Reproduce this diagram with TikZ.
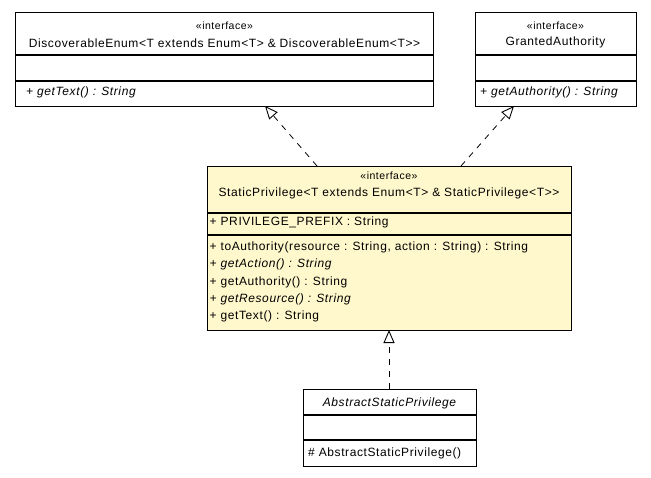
\documentclass[tikz,border=0pt]{standalone}
\usepackage{fontspec}
\setmainfont{Liberation Sans}[LetterSpace=5]
\usetikzlibrary{arrows.meta,calc}
\definecolor{focus}{HTML}{FFF8CC}
\begin{document}
\begin{tikzpicture}[x=1pt,y=-1pt,
  umlbox/.style={draw=black, line width=0.9pt, anchor=north west, inner sep=0pt, outer sep=0pt},
  sepline/.style={draw=black, line width=1.1pt},
  txt/.style={inner sep=0pt, font=\fontsize{12}{14}\selectfont},
  itxt/.style={txt, font=\fontsize{12}{14}\selectfont\itshape},
  stereo/.style={inner sep=0pt, font=\fontsize{10.5}{12}\selectfont},
  realize/.style={draw=black, line width=0.8pt, dash pattern=on 6pt off 6pt,
    -{Triangle[open,length=13pt,width=11pt,line width=0.9pt,fill=white]}}]
\useasboundingbox (0,0) rectangle (651,477);
\fill[white] (0,0) rectangle (651,477);

% DiscoverableEnum
\node[umlbox, minimum width=418pt, minimum height=94pt] (de) at (15,12) {};
\draw[sepline] (15,55) -- (433,55);
\draw[sepline] (15,81) -- (433,81);
\node[stereo] (de-st) at (224.5,26) {«interface»};
\node[txt] (de-nm) at (224.5,43) {DiscoverableEnum<T extends Enum<T> \& DiscoverableEnum<T>{}>};
\node[itxt, anchor=mid west] (de-m1) at (26,93) {+ getText() : String};

% GrantedAuthority
\node[umlbox, minimum width=161pt, minimum height=94pt] (ga) at (475,12) {};
\draw[sepline] (475,55) -- (636,55);
\draw[sepline] (475,81) -- (636,81);
\node[stereo] (ga-st) at (555.5,26) {«interface»};
\node[txt] (ga-nm) at (555.5,42) {GrantedAuthority};
\node[itxt, anchor=mid west] (ga-m1) at (480,93) {+ getAuthority() : String};

% StaticPrivilege
\node[umlbox, fill=focus, minimum width=364pt, minimum height=164pt] (sp) at (207,166) {};
\draw[sepline] (207,213) -- (571,213);
\draw[sepline] (207,235) -- (571,235);
\node[stereo] (sp-st) at (389,176) {«interface»};
\node[txt] (sp-nm) at (389,193) {StaticPrivilege<T extends Enum<T> \& StaticPrivilege<T>{}>};
\node[txt, anchor=mid west] (sp-f1) at (209.5,223) {+ PRIVILEGE\_PREFIX : String};
\node[txt, anchor=mid west] (sp-m1) at (209.5,248) {+ toAuthority(resource : String, action : String) : String};
\node[itxt, anchor=mid west] (sp-m2) at (209.5,265) {+ getAction() : String};
\node[txt, anchor=mid west] (sp-m3) at (209.5,283) {+ getAuthority() : String};
\node[itxt, anchor=mid west] (sp-m4) at (209.5,300) {+ getResource() : String};
\node[txt, anchor=mid west] (sp-m5) at (209.5,317) {+ getText() : String};

% AbstractStaticPrivilege
\node[umlbox, minimum width=173pt, minimum height=77pt] (asp) at (303,389) {};
\draw[sepline] (303,415) -- (476,415);
\draw[sepline] (303,440) -- (476,440);
\node[itxt] (asp-nm) at (389.5,403) {AbstractStaticPrivilege};
\node[txt, anchor=mid west] (asp-m1) at (308,454) {\# AbstractStaticPrivilege()};

% connectors
\coordinate (s1) at (317,166);
\coordinate (t1) at (265,106);
\coordinate (s2) at (461,166);
\coordinate (t2) at (514,106);
\coordinate (s3) at (389,389);
\coordinate (t3) at (389,330);
\draw[realize] (s1) -- (t1);
\draw[realize] (s2) -- (t2);
\draw[realize] (s3) -- (t3);
\end{tikzpicture}
\end{document}
